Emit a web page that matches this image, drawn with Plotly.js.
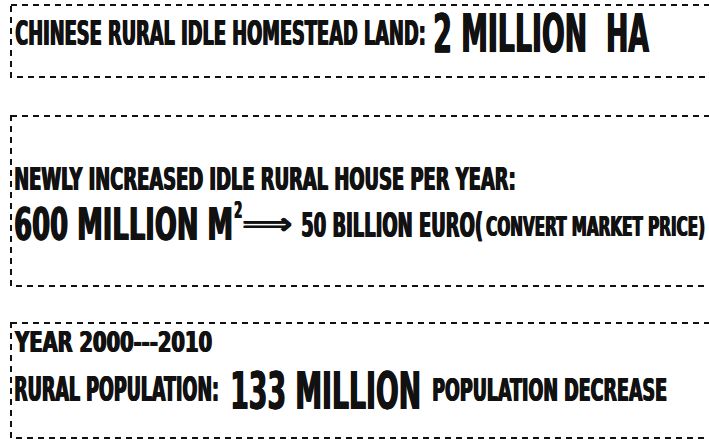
<!DOCTYPE html>
<html>
<head>
<meta charset="utf-8">
<script src="https://cdn.plot.ly/plotly-3.0.1.min.js"></script>
<style>html,body{margin:0;padding:0;background:#fff;}#chart{width:709px;height:439px;}</style>
</head>
<body>
<div id="chart"></div>
<script>
// ---- content (text values) ----
const landLabel = "CHINESE RURAL IDLE HOMESTEAD LAND:";
const landValue = "2 MILLION\u00a0 HA";
const houseLabel = "NEWLY INCREASED IDLE RURAL HOUSE PER YEAR:";
const houseValue = "600 MILLION M";
const houseUnitSup = "2";
const arrowGlyph = "\u27F9";
const houseEuro = "50 BILLION EURO(";
const houseNote = "CONVERT MARKET PRICE)";
const popPeriod = "YEAR 2000---2010";
const popLabel = "RURAL POPULATION:";
const popValue = "133 MILLION";
const popNote = "POPULATION DECREASE";

// ---- layout (pixel geometry) ----
const W = 709, H = 439;
const px = x => x / W;
const py = y => 1 - y / H;
const FONT = "Liberation Sans Narrow, DejaVu Sans Condensed, Arial Narrow, sans-serif";
const HEAVY = "1px 0 0 #111111, -0.5px 0 0 #111111";

// [text, left x, cap-centre y, font size, target width, family, weight]
const items = [
  [landLabel, 15, 33.5, 34, 411, FONT, 'bold'],
  [landValue, 433, 33, 54, 216, FONT, 'bold'],
  [houseLabel, 14, 179, 32, 502, FONT, 'bold'],
  [houseValue, 14, 224.5, 45, 219, FONT, 'bold'],
  [houseUnitSup, 234, 210, 23, 8, FONT, 'bold'],
  [arrowGlyph, 242, 223, 30, 50, "DejaVu Sans, sans-serif", 'bold'],
  [houseEuro, 301, 225, 33, 182, FONT, 'bold'],
  [houseNote, 486, 226.5, 27, 219, FONT, 'bold'],
  [popPeriod, 14, 341.5, 29, 197, FONT, 'bold'],
  [popLabel, 14, 389, 33, 205, FONT, 'bold'],
  [popValue, 230, 391, 51, 191, FONT, 'bold'],
  [popNote, 432, 390, 32, 235, FONT, 'bold']
];

const annotations = items.map(([t, x, y, s, w, fam, wt]) => ({
  text: t, xref: 'paper', yref: 'paper', x: px(x), y: py(y),
  xanchor: 'left', yanchor: 'middle', align: 'left', showarrow: false,
  borderpad: 0, borderwidth: 0,
  font: {family: fam, size: s, color: '#111111', weight: wt, shadow: HEAVY}
}));

const boxes = [[11, 5, 77], [11, 116, 286], [11, 323, 438]];
const shapes = boxes.map(([x0, y0, y1]) => ({
  type: 'rect', xref: 'paper', yref: 'paper',
  x0: px(x0), x1: px(W + 20), y0: py(y0), y1: py(y1),
  line: {color: '#111111', width: 2, dash: '6px,5px'},
  fillcolor: 'rgba(0,0,0,0)'
}));

const layout = {
  width: W, height: H,
  margin: {l: 0, r: 0, t: 0, b: 0, pad: 0},
  paper_bgcolor: '#ffffff', plot_bgcolor: '#ffffff',
  xaxis: {visible: false, range: [0, 1], fixedrange: true},
  yaxis: {visible: false, range: [0, 1], fixedrange: true},
  showlegend: false,
  annotations: annotations,
  shapes: shapes
};

Plotly.newPlot('chart', [], layout, {staticPlot: true, displayModeBar: false, responsive: false}).then(gd => {
  items.forEach((it, i) => {
    const g = gd.querySelector('.annotation[data-index="' + i + '"]');
    if (!g) return;
    const t = g.querySelector('.annotation-text');
    if (!t) return;
    const natural = t.getComputedTextLength();
    if (!natural) return;
    const k = it[4] / natural;
    const x0 = parseFloat(t.getAttribute('x')) || 0;
    t.setAttribute('transform', 'translate(' + x0 + ',0) scale(' + k + ',1) translate(' + (-x0) + ',0)');
    const bg = g.querySelector('rect.bg');
    if (bg) bg.setAttribute('width', it[4]);
  });
});
</script>
</body>
</html>
